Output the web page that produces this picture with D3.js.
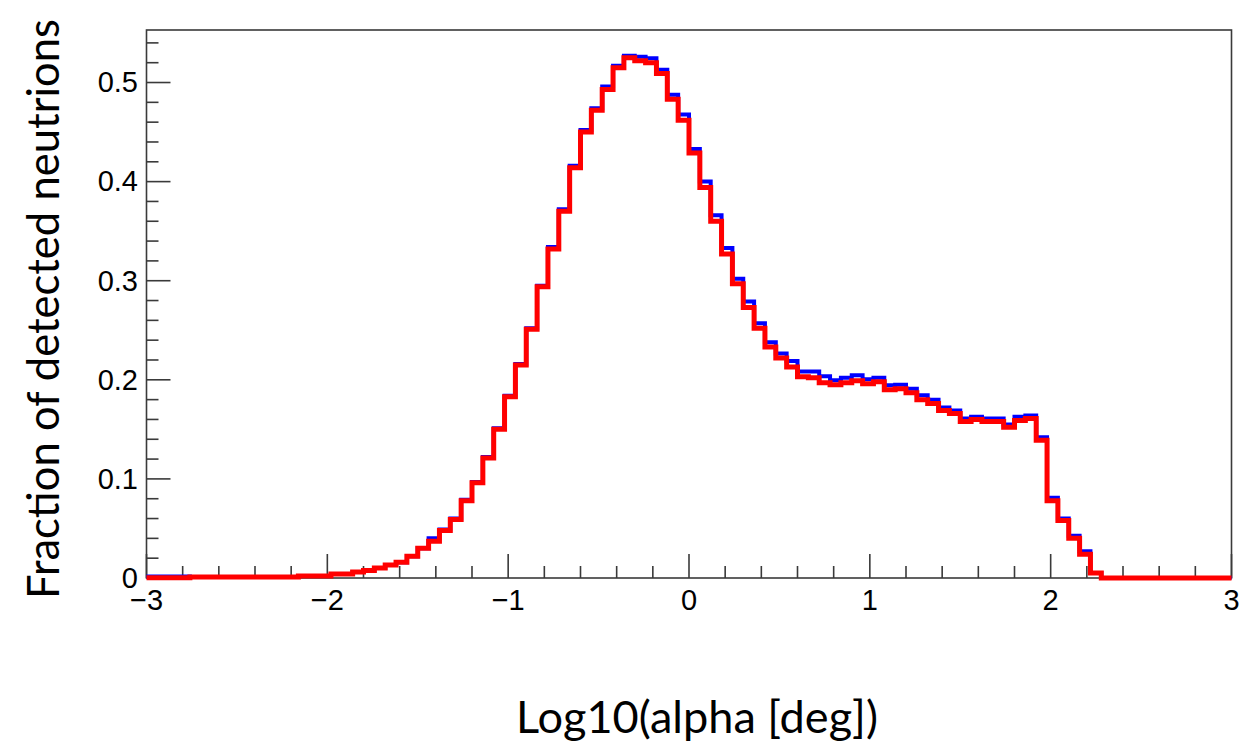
<!DOCTYPE html>
<html>
<head>
<meta charset="utf-8">
<script src="https://cdn.jsdelivr.net/npm/d3@7"></script>
<style>
  html, body { margin: 0; padding: 0; background: #fff; }
  svg { display: block; }
  .tick-label { font-family: "Liberation Sans", Arial, sans-serif; font-size: 29px; fill: #000; }
  .title { font-family: Lato, "Open Sans", sans-serif; fill: #000; }
</style>
</head>
<body>
<div id="chart"></div>
<script>
// 100 bins of width 0.06 on [-3, 3]
var binLow = -3, binHigh = 3, nBins = 100;

var blueValues = [
  0.0015, 0.0015, 0.0015, 0.0015, 0.001, 0.001, 0.001, 0.001, 0.001, 0.001,
  0.001, 0.001, 0.001, 0.001, 0.002, 0.002, 0.002, 0.004, 0.004, 0.006,
  0.0075, 0.010, 0.013, 0.016, 0.022, 0.030, 0.040, 0.049, 0.060, 0.079,
  0.097, 0.122, 0.151, 0.184, 0.216, 0.252, 0.295, 0.334, 0.372, 0.416,
  0.452, 0.474, 0.496, 0.517, 0.527, 0.526, 0.5245, 0.513, 0.4876, 0.4677,
  0.433, 0.400, 0.366, 0.333, 0.302, 0.279, 0.257, 0.238, 0.2265, 0.219,
  0.2085, 0.2085, 0.2035, 0.1995, 0.202, 0.2045, 0.2005, 0.202, 0.1945, 0.195,
  0.191, 0.1845, 0.180, 0.172, 0.169, 0.161, 0.1626, 0.161, 0.161, 0.155,
  0.1626, 0.164, 0.142, 0.081, 0.060, 0.0427, 0.027, 0.005, 0, 0,
  0, 0, 0, 0, 0, 0, 0, 0, 0, 0
];

var redValues = [
  0.0003, 0.0003, 0.0003, 0.0003, 0.001, 0.001, 0.001, 0.001, 0.001, 0.001,
  0.001, 0.001, 0.001, 0.001, 0.002, 0.002, 0.002, 0.004, 0.004, 0.006,
  0.0075, 0.010, 0.013, 0.016, 0.022, 0.030, 0.037, 0.048, 0.059, 0.078,
  0.096, 0.121, 0.150, 0.183, 0.215, 0.251, 0.294, 0.332, 0.370, 0.414,
  0.450, 0.472, 0.493, 0.515, 0.525, 0.522, 0.520, 0.509, 0.483, 0.462,
  0.429, 0.394, 0.360, 0.327, 0.297, 0.273, 0.252, 0.233, 0.222, 0.213,
  0.203, 0.202, 0.197, 0.195, 0.197, 0.199, 0.196, 0.198, 0.190, 0.191,
  0.187, 0.180, 0.176, 0.169, 0.166, 0.158, 0.160, 0.158, 0.158, 0.152,
  0.159, 0.161, 0.139, 0.078, 0.058, 0.040, 0.024, 0.005, 0, 0,
  0, 0, 0, 0, 0, 0, 0, 0, 0, 0
];

var xMajorTicks = [-3, -2, -1, 0, 1, 2, 3];
var yMajorTicks = [0, 0.1, 0.2, 0.3, 0.4, 0.5];
var yTop = 0.553;

var xTitle = "Log10(alpha [deg])";
var yTitle = "Fraction of detected neutrions";

var W = 1241, H = 745;
var frameLeft = 146.5, frameRight = 1231.5, frameTop = 30, frameBottom = 578;

var svg = d3.select("#chart").append("svg").attr("width", W).attr("height", H);

var x = d3.scaleLinear().domain([binLow, binHigh]).range([frameLeft, frameRight]);
var y = d3.scaleLinear().domain([0, yTop]).range([frameBottom, frameTop]);

var axisColor = "#3a3a3a";
var fmt = d3.format("");

// frame
svg.append("rect").attr("x", frameLeft).attr("y", frameTop)
  .attr("width", frameRight - frameLeft).attr("height", frameBottom - frameTop)
  .attr("fill", "none").attr("stroke", axisColor).attr("stroke-width", 1.6);

// x ticks (inside the frame, pointing up)
var xMinor = d3.range(-30, 31, 2).map(function(d) { return d / 10; });
svg.append("g").selectAll("line").data(xMinor).enter().append("line")
  .attr("x1", function(d) { return x(d); }).attr("x2", function(d) { return x(d); })
  .attr("y1", frameBottom).attr("y2", function(d) {
    return frameBottom - (Math.abs(d - Math.round(d)) < 1e-9 ? 24 : 12);
  })
  .attr("stroke", axisColor).attr("stroke-width", 1.6);

svg.append("g").selectAll("text").data(xMajorTicks).enter().append("text")
  .attr("class", "tick-label")
  .attr("x", function(d) { return x(d); }).attr("y", 610)
  .attr("text-anchor", "middle")
  .text(function(d) { return fmt(d); });

// y ticks
var yMinor = d3.range(0, 28).map(function(d) { return d * 0.02; });
svg.append("g").selectAll("line").data(yMinor).enter().append("line")
  .attr("y1", function(d) { return y(d); }).attr("y2", function(d) { return y(d); })
  .attr("x1", frameLeft).attr("x2", function(d, i) { return frameLeft + (i % 5 === 0 ? 24 : 12); })
  .attr("stroke", axisColor).attr("stroke-width", 1.6);

svg.append("g").selectAll("text").data(yMajorTicks).enter().append("text")
  .attr("class", "tick-label")
  .attr("x", 138).attr("y", function(d) { return y(d); })
  .attr("dy", "0.34em")
  .attr("text-anchor", "end")
  .text(function(d) { return d === 0 ? "0" : d3.format(".1f")(d); });

// histograms as step lines
var binWidth = (binHigh - binLow) / nBins;
function stepPoints(values) {
  var pts = [];
  values.forEach(function(v, i) {
    pts.push([binLow + i * binWidth, v]);
    pts.push([binLow + (i + 1) * binWidth, v]);
  });
  return pts;
}
var line = d3.line()
  .x(function(d) { return x(d[0]); })
  .y(function(d) { return y(d[1]); });

svg.append("path").datum(stepPoints(blueValues))
  .attr("d", line).attr("fill", "none")
  .attr("stroke", "#0000ff").attr("stroke-width", 4)
  .attr("stroke-linejoin", "miter");

svg.append("path").datum(stepPoints(redValues))
  .attr("d", line).attr("fill", "none")
  .attr("stroke", "#ff0000").attr("stroke-width", 5)
  .attr("stroke-linejoin", "miter");

// axis titles, sized to the width they take in the picture
function fitText(sel, target) {
  var size = 40;
  sel.style("font-size", size + "px");
  var len = sel.node().getComputedTextLength();
  sel.style("font-size", (size * target / len) + "px");
}

var xt = svg.append("text").attr("class", "title")
  .attr("x", 697).attr("y", 733).attr("text-anchor", "middle").text(xTitle);
fitText(xt, 362);

var yt = svg.append("text").attr("class", "title")
  .attr("transform", "translate(59,309) rotate(-90)")
  .attr("text-anchor", "middle").text(yTitle);
fitText(yt, 580);
</script>
</body>
</html>
